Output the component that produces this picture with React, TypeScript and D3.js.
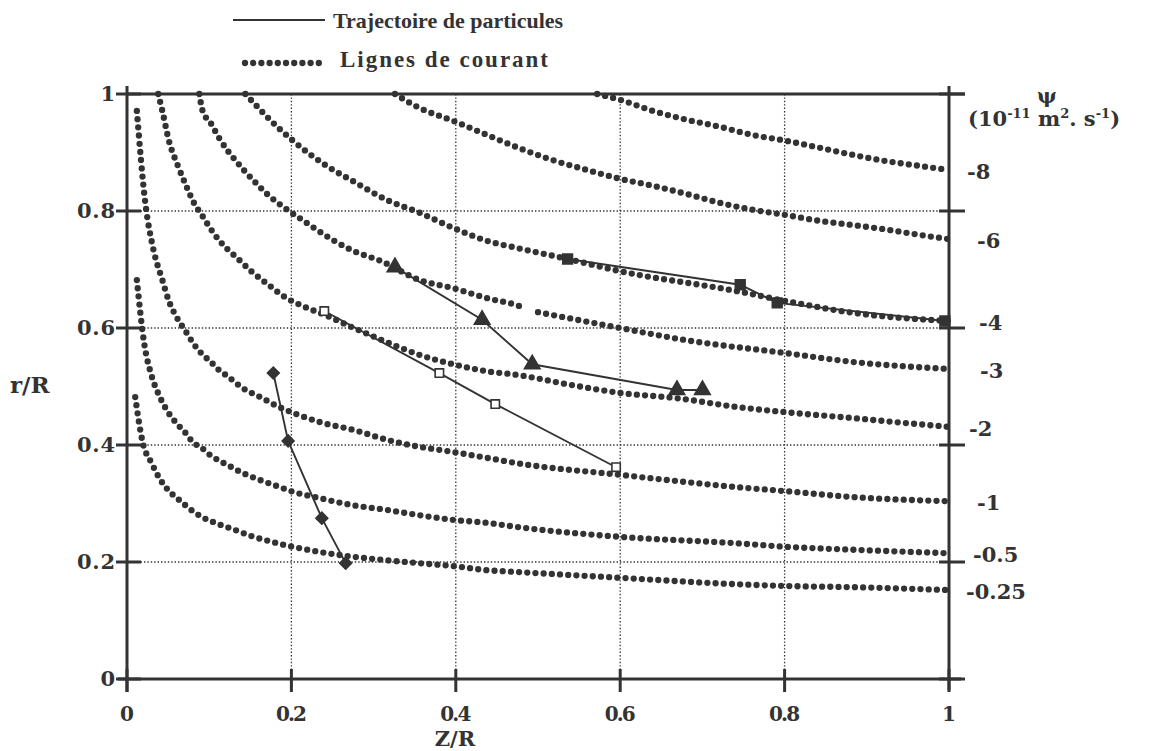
import React from 'react';
import * as d3 from 'd3';

// ---------- data ----------
const xTicks = [0, 0.2, 0.4, 0.6, 0.8, 1];
const xTickLabels = ['0', '0.2', '0.4', '0.6', '0.8', '1'];
const yTicks = [0, 0.2, 0.4, 0.6, 0.8, 1];
const yTickLabels = ['0', '0.2', '0.4', '0.6', '0.8', '1'];
const gridValues = [0.2, 0.4, 0.6, 0.8];

type P = [number, number] | null;

// stream lines (Z/R, r/R), labelled by psi (10^-11 m2.s-1)
const psiM8: P[] = [[0.572, 1.0], [0.6, 0.99], [0.64, 0.971], [0.681, 0.956], [0.721, 0.944], [0.761, 0.93], [0.802, 0.92], [0.843, 0.908], [0.883, 0.896], [0.925, 0.885], [0.965, 0.877], [1.0, 0.87]];
const psiM6: P[] = [[0.326, 1.0], [0.356, 0.976], [0.397, 0.954], [0.438, 0.93], [0.478, 0.907], [0.518, 0.887], [0.56, 0.87], [0.6, 0.855], [0.64, 0.843], [0.681, 0.829], [0.721, 0.814], [0.762, 0.802], [0.802, 0.793], [0.843, 0.783], [0.883, 0.776], [0.925, 0.768], [0.965, 0.759], [1.0, 0.752]];
const psiM4: P[] = [[0.144, 1.0], [0.152, 0.988], [0.182, 0.945], [0.202, 0.92], [0.243, 0.877], [0.275, 0.851], [0.316, 0.819], [0.356, 0.797], [0.397, 0.771], [0.438, 0.749], [0.474, 0.737], [0.536, 0.718], [0.6, 0.697], [0.742, 0.663], [0.802, 0.646], [0.883, 0.626], [1.0, 0.612]];
const psiM3: P[] = [[0.088, 1.0], [0.092, 0.971], [0.102, 0.95], [0.112, 0.925], [0.122, 0.904], [0.133, 0.885], [0.142, 0.87], [0.152, 0.855], [0.172, 0.827], [0.192, 0.805], [0.213, 0.785], [0.251, 0.75], [0.275, 0.732], [0.308, 0.715], [0.356, 0.682], [0.397, 0.668], [0.438, 0.651], [0.474, 0.639], [0.482, 0.635], null, [0.5, 0.627], [0.6, 0.6], [0.681, 0.579], [0.802, 0.557], [0.883, 0.542], [1.0, 0.53]];
const psiM2: P[] = [[0.038, 1.0], [0.043, 0.971], [0.051, 0.92], [0.062, 0.877], [0.072, 0.843], [0.081, 0.815], [0.092, 0.791], [0.102, 0.769], [0.112, 0.75], [0.122, 0.735], [0.133, 0.721], [0.152, 0.696], [0.172, 0.674], [0.192, 0.653], [0.213, 0.638], [0.243, 0.621], [0.268, 0.605], [0.299, 0.586], [0.328, 0.569], [0.356, 0.554], [0.397, 0.538], [0.438, 0.526], [0.474, 0.52], [0.539, 0.503], [0.6, 0.489], [0.669, 0.48], [0.742, 0.465], [0.802, 0.456], [0.883, 0.446], [0.944, 0.438], [1.0, 0.431]];
const psiM1: P[] = [[0.012, 0.971], [0.022, 0.817], [0.032, 0.735], [0.043, 0.682], [0.051, 0.646], [0.061, 0.617], [0.072, 0.593], [0.081, 0.573], [0.091, 0.556], [0.102, 0.542], [0.112, 0.528], [0.122, 0.518], [0.141, 0.497], [0.162, 0.482], [0.182, 0.467], [0.202, 0.455], [0.235, 0.439], [0.275, 0.426], [0.316, 0.409], [0.344, 0.4], [0.397, 0.388], [0.438, 0.378], [0.474, 0.369], [0.6, 0.349], [0.742, 0.328], [0.802, 0.321], [0.883, 0.311], [1.0, 0.304]];
const psiM05: P[] = [[0.012, 0.682], [0.021, 0.573], [0.03, 0.518], [0.04, 0.482], [0.05, 0.456], [0.061, 0.436], [0.071, 0.421], [0.08, 0.405], [0.091, 0.395], [0.101, 0.383], [0.111, 0.374], [0.122, 0.366], [0.141, 0.352], [0.162, 0.34], [0.182, 0.33], [0.202, 0.32], [0.235, 0.309], [0.275, 0.297], [0.316, 0.289], [0.356, 0.28], [0.397, 0.272], [0.438, 0.267], [0.474, 0.26], [0.6, 0.243], [0.742, 0.232], [0.802, 0.226], [0.883, 0.221], [1.0, 0.215]];
const psiM025: P[] = [[0.01, 0.482], [0.019, 0.405], [0.03, 0.369], [0.04, 0.342], [0.05, 0.323], [0.061, 0.309], [0.071, 0.297], [0.08, 0.287], [0.091, 0.277], [0.111, 0.265], [0.131, 0.255], [0.152, 0.244], [0.172, 0.236], [0.192, 0.229], [0.202, 0.226], [0.235, 0.217], [0.275, 0.209], [0.316, 0.203], [0.356, 0.198], [0.397, 0.193], [0.438, 0.186], [0.474, 0.183], [0.6, 0.173], [0.742, 0.162], [0.802, 0.159], [0.883, 0.157], [1.0, 0.152]];

const streamLines = [psiM8, psiM6, psiM4, psiM3, psiM2, psiM1, psiM05, psiM025];
const psiLabels = ['-8', '-6', '-4', '-3', '-2', '-1', '-0.5', '-0.25'];
const psiLabelX = [967, 977, 979, 980, 969, 977, 973, 966];

// particle trajectories
const trajDiamond: [number, number][] = [[0.178, 0.523], [0.196, 0.407], [0.237, 0.275], [0.266, 0.198]];
const trajOpenSquare: [number, number][] = [[0.24, 0.629], [0.38, 0.523], [0.448, 0.47], [0.595, 0.362]];
const trajTriangle: [number, number][] = [[0.326, 0.704], [0.432, 0.614], [0.493, 0.538], [0.669, 0.494], [0.7, 0.494]];
const trajSquare: [number, number][] = [[0.536, 0.718], [0.746, 0.674], [0.791, 0.643], [0.995, 0.612]];

const INK = '#333333';
const FONT = '"DejaVu Serif", "Liberation Serif", serif';
const FONT2 = '"Liberation Serif", "DejaVu Serif", serif';

export default function App() {
  const x = d3.scaleLinear().domain([0, 1]).range([127, 949]);
  const y = d3.scaleLinear().domain([0, 1]).range([679, 94]);

  const streamLine = d3
    .line<P>()
    .defined((d) => d !== null)
    .x((d) => x((d as [number, number])[0]))
    .y((d) => y((d as [number, number])[1]))
    .curve(d3.curveMonotoneX);

  const trajLine = d3
    .line<[number, number]>()
    .x((d) => x(d[0]))
    .y((d) => y(d[1]));

  const sym = (type: d3.SymbolType, size: number) => d3.symbol().type(type).size(size)() as string;

  const trajs = [
    { data: trajDiamond, path: sym(d3.symbolSquare, 70), rot: 45, fill: INK },
    { data: trajOpenSquare, path: sym(d3.symbolSquare, 70), rot: 0, fill: '#fff' },
    { data: trajTriangle, path: sym(d3.symbolTriangle, 105), rot: 0, fill: INK },
    { data: trajSquare, path: sym(d3.symbolSquare, 95), rot: 0, fill: INK },
  ];

  const textStyle: React.CSSProperties = { fontFamily: FONT, fontWeight: 'bold', fill: INK };
  const textStyle2: React.CSSProperties = { fontFamily: FONT2, fontWeight: 'bold', fill: INK };

  return (
    <svg width={1150} height={751} style={{ position: 'absolute', left: 0, top: 0, background: '#fff' }}>
      {/* grid */}
      {gridValues.map((v) => (
        <g key={'g' + v}>
          <line x1={x(v)} x2={x(v)} y1={y(1)} y2={y(0)} stroke={INK} strokeWidth={1.3} strokeDasharray="1.4 2" />
          <line x1={x(0)} x2={x(1)} y1={y(v)} y2={y(v)} stroke={INK} strokeWidth={1.3} strokeDasharray="1.4 2" />
        </g>
      ))}

      {/* stream lines */}
      {streamLines.map((s, i) => (
        <path
          key={'s' + i}
          d={streamLine(s) as string}
          fill="none"
          stroke={INK}
          strokeWidth={6.3}
          strokeLinecap="round"
          strokeDasharray="0 8.2"
        />
      ))}

      {/* frame / axes */}
      <line x1={x(0)} x2={x(0)} y1={86} y2={692} stroke={INK} strokeWidth={3} />
      <line x1={x(1)} x2={x(1)} y1={86} y2={690} stroke={INK} strokeWidth={3} />
      <line x1={x(0)} x2={x(1) + 16} y1={y(1)} y2={y(1)} stroke={INK} strokeWidth={3} />
      <line x1={x(0) - 9} x2={x(1) + 12} y1={y(0)} y2={y(0)} stroke={INK} strokeWidth={3} />
      {yTicks.map((v) => (
        <g key={'yt' + v}>
          <line x1={x(0) - 11} x2={x(0) + 14} y1={y(v)} y2={y(v)} stroke={INK} strokeWidth={3} />
          <line x1={x(1) - 10} x2={x(1) + 16} y1={y(v)} y2={y(v)} stroke={INK} strokeWidth={3} />
        </g>
      ))}
      {xTicks.map((v) => (
        <line key={'xt' + v} x1={x(v)} x2={x(v)} y1={y(0) - 10} y2={y(0) + 13} stroke={INK} strokeWidth={3} />
      ))}

      {/* trajectories */}
      {trajs.map((t, i) => (
        <g key={'t' + i}>
          <path d={trajLine(t.data) as string} fill="none" stroke={INK} strokeWidth={1.9} />
          {t.data.map((d, j) => (
            <path
              key={j}
              d={t.path}
              transform={`translate(${x(d[0])},${y(d[1])}) rotate(${t.rot})`}
              fill={t.fill}
              stroke={INK}
              strokeWidth={1.6}
            />
          ))}
        </g>
      ))}

      {/* tick labels */}
      {yTicks.map((v, i) => (
        <text
          key={'yl' + v}
          x={115}
          y={y(v) + 7}
          textAnchor="end"
          fontSize={21}
          style={textStyle}
          {...(yTickLabels[i].length > 1 ? { textLength: 38, lengthAdjust: 'spacing' } : {})}
        >
          {yTickLabels[i]}
        </text>
      ))}
      {xTicks.map((v, i) => (
        <text
          key={'xl' + v}
          x={x(v)}
          y={721}
          textAnchor="middle"
          fontSize={20}
          style={textStyle}
          {...(xTickLabels[i].length > 1 ? { textLength: 31, lengthAdjust: 'spacing' } : {})}
        >
          {xTickLabels[i]}
        </text>
      ))}

      {/* axis titles */}
      <text x={455} y={746} textAnchor="middle" fontSize={21} style={textStyle}>Z/R</text>
      <text x={10} y={393} fontSize={23} style={textStyle}>r/R</text>

      {/* psi labels */}
      {streamLines.map((s, i) => {
        const last = s[s.length - 1] as [number, number];
        return (
          <text key={'pl' + i} x={psiLabelX[i]} y={y(last[1]) + 9} fontSize={21} style={textStyle}>
            {psiLabels[i]}
          </text>
        );
      })}
      <text x={1047} y={103} textAnchor="middle" fontSize={21} style={textStyle}>ψ</text>
      <text x={968} y={126} fontSize={21} style={textStyle}>
        (10
        <tspan dy={-8} fontSize={13}>-11</tspan>
        <tspan dy={8}> m</tspan>
        <tspan dy={-8} fontSize={13}>2</tspan>
        <tspan dy={8}>. s</tspan>
        <tspan dy={-8} fontSize={13}>-1</tspan>
        <tspan dy={8}>)</tspan>
      </text>

      {/* legend */}
      <line x1={233} x2={325} y1={20} y2={20} stroke={INK} strokeWidth={2} />
      <text x={333} y={28} fontSize={22} style={textStyle2}>
        Trajectoire de particules
      </text>
      <path d="M245,63 L320,63" stroke={INK} strokeWidth={6.3} strokeLinecap="round" strokeDasharray="0 8.2" />
      <text x={340} y={67} fontSize={23} style={textStyle2} textLength={208} lengthAdjust="spacing">
        Lignes de courant
      </text>
    </svg>
  );
}
